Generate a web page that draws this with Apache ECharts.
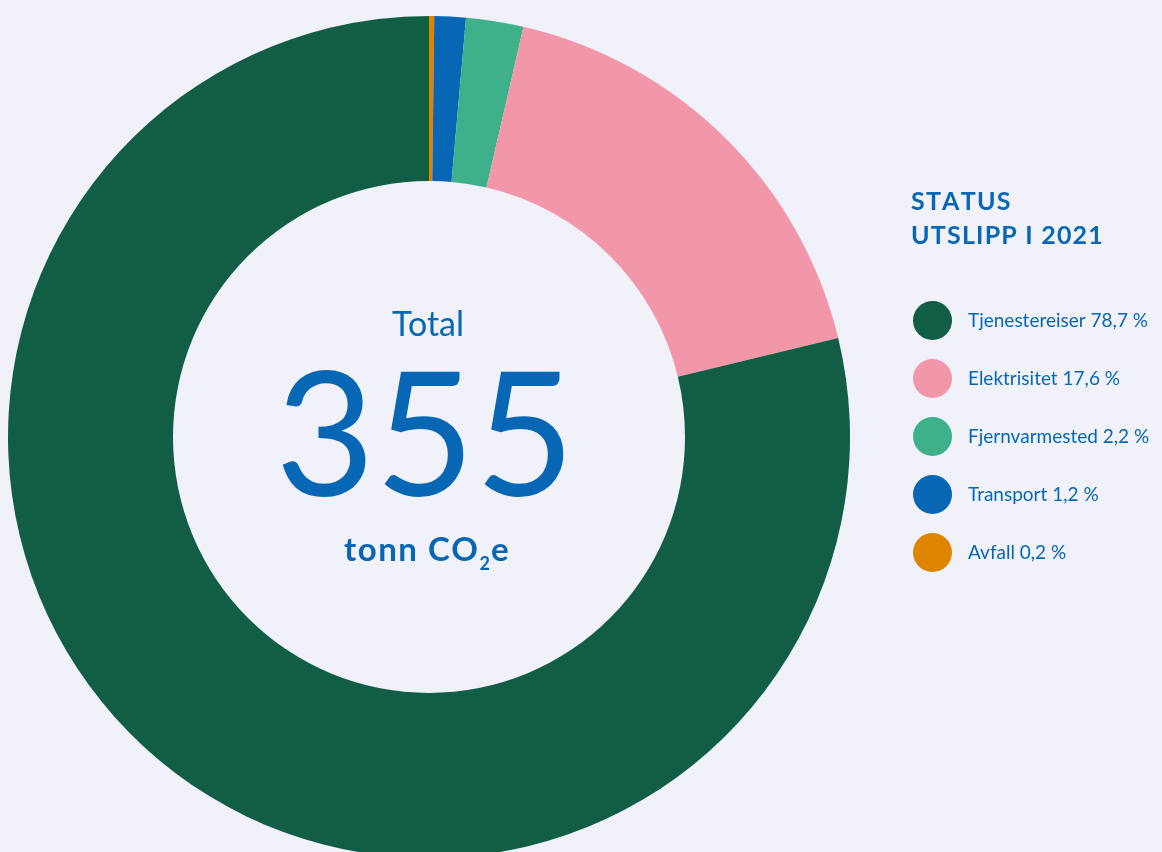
<!DOCTYPE html>
<html>
<head>
<meta charset="utf-8">
<script src="https://cdn.jsdelivr.net/npm/echarts@6/dist/echarts.min.js"></script>
<style>
html,body{margin:0;padding:0;background:#f0f1f9;}
#chart{width:1162px;height:852px;}
</style>
</head>
<body>
<div id="chart"></div>
<script>
// Data (clockwise order from 12 o'clock)
const categories = ['Avfall', 'Transport', 'Fjernvarmested', 'Elektrisitet', 'Tjenestereiser'];
const shares = [0.2, 1.2, 2.2, 17.6, 78.7];
const colors = ['#de8400', '#0767b5', '#3eb08a', '#f297aa', '#115e45'];
const legendOrder = ['Tjenestereiser', 'Elektrisitet', 'Fjernvarmested', 'Transport', 'Avfall'];
const totalValue = '355';
const titleLines = ['STATUS', 'UTSLIPP I 2021'];

const blue = '#0767b5';
const FONT = 'Lato, "Noto Sans", sans-serif';
const fmt = v => v.toFixed(1).replace('.', ',') + ' %';
// letter-spaced text via rich tokens
const spaced = (s, style) => s.split('').map(ch => '{' + style + '|' + (ch === ' ' ? '\u00a0' : ch) + '}').join('');

const chart = echarts.init(document.getElementById('chart'), null, {renderer: 'canvas'});
chart.setOption({
  backgroundColor: '#f0f1f9',
  animation: false,
  legend: {
    orient: 'vertical',
    left: 913,
    top: 301,
    padding: 0,
    icon: 'circle',
    itemWidth: 39,
    itemHeight: 39,
    itemGap: 19,
    selectedMode: false,
    data: legendOrder,
    formatter: name => name + ' ' + fmt(shares[categories.indexOf(name)]),
    textStyle: {color: blue, fontSize: 19, fontFamily: FONT, padding: [0, 0, 0, 11]}
  },
  graphic: [
    {type: 'text', left: 911, top: 189, style: {text: spaced(titleLines[0], 't'), rich: {t: {fill: blue, color: blue, fontSize: 25, fontWeight: 'bold', fontFamily: FONT, padding: [0, 1.2, 0, 0]}}}},
    {type: 'text', left: 911, top: 223, style: {text: spaced(titleLines[1], 't'), rich: {t: {fill: blue, color: blue, fontSize: 25, fontWeight: 'bold', fontFamily: FONT, padding: [0, 1.2, 0, 0]}}}},
    {type: 'text', x: 428, y: 325, style: {text: 'Total', fill: blue, font: '34px ' + FONT, align: 'center', verticalAlign: 'middle'}},
    {type: 'text', x: 425, y: 441, style: {text: totalValue, fill: blue, font: '172px ' + FONT, align: 'center', verticalAlign: 'middle'}},
    {type: 'text', x: 427, y: 550, style: {
      text: spaced('tonn CO', 'a') + '{b|2}' + spaced('e', 'a'), align: 'center', verticalAlign: 'middle',
      rich: {
        a: {fill: blue, color: blue, fontSize: 33, fontWeight: 'bold', fontFamily: FONT, padding: [0, 1.5, 0, 0]},
        b: {fill: blue, color: blue, fontSize: 18, fontWeight: 'bold', fontFamily: FONT, padding: [28, 1, 0, 0]}
      }
    }}
  ],
  series: [{
    type: 'pie',
    center: [429, 437],
    radius: [256, 421],
    startAngle: 90,
    clockwise: true,
    label: {show: false},
    labelLine: {show: false},
    emphasis: {disabled: true},
    itemStyle: {borderWidth: 0},
    data: categories.map((c, i) => ({name: c, value: shares[i], itemStyle: {color: colors[i]}}))
  }]
});
</script>
</body>
</html>
